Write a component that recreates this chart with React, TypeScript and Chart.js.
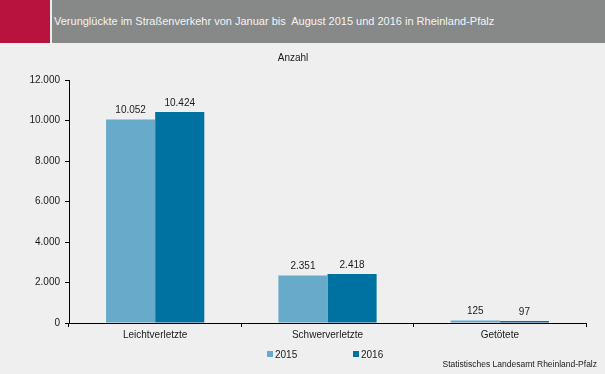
import React, { useEffect, useRef } from "react";
import { Chart, registerables } from "chart.js";

Chart.register(...registerables);

const categories = ["Leichtverletzte", "Schwerverletzte", "Getötete"];
const values2015 = [10052, 2351, 125];
const values2016 = [10424, 2418, 97];
const seriesLabels = ["2015", "2016"];
const seriesColors = ["#68aac9", "#0072a2"];
const yTicks = [0, 2000, 4000, 6000, 8000, 10000, 12000];
const titleText = "Verunglückte im Straßenverkehr von Januar bis  August 2015 und 2016 in Rheinland-Pfalz";
const unitText = "Anzahl";
const sourceText = "Statistisches Landesamt Rheinland-Pfalz";

const FONT = "'Liberation Sans', Arial, sans-serif";
const BG = "#eeefee";
const TXT = "#1a1a1a";

function fmt(n: number): string {
  const s = Math.round(n).toString();
  return s.replace(/\B(?=(\d{3})+(?!\d))/g, ".");
}

const labelPlugin = {
  id: "valueLabels",
  afterDatasetsDraw(chart: any) {
    const ctx = chart.ctx;
    ctx.save();
    ctx.font = "10px " + FONT;
    ctx.fillStyle = TXT;
    ctx.textAlign = "center";
    ctx.textBaseline = "alphabetic";
    chart.data.datasets.forEach((ds: any, i: number) => {
      const meta = chart.getDatasetMeta(i);
      meta.data.forEach((el: any, j: number) => {
        ctx.fillText(fmt(ds.data[j]), el.x, el.y - 6);
      });
    });
    // legend
    const legendX = [267, 353];
    chart.data.datasets.forEach((ds: any, i: number) => {
      ctx.fillStyle = ds.backgroundColor;
      ctx.fillRect(legendX[i], 351, 6, 6);
      ctx.fillStyle = TXT;
      ctx.font = "10px " + FONT;
      ctx.textAlign = "left";
      ctx.textBaseline = "middle";
      ctx.fillText(ds.label, legendX[i] + 8, 355);
    });
    ctx.font = "8.5px " + FONT;
    ctx.textAlign = "right";
    ctx.textBaseline = "alphabetic";
    ctx.fillStyle = TXT;
    ctx.fillText(sourceText, 597, 367);
    ctx.restore();
  },
};

export default function App() {
  const ref = useRef<HTMLCanvasElement | null>(null);
  useEffect(() => {
    if (!ref.current) return;
    const chart = new Chart(ref.current, {
      type: "bar",
      data: {
        labels: categories,
        datasets: [
          { label: seriesLabels[0], data: values2015, backgroundColor: seriesColors[0] },
          { label: seriesLabels[1], data: values2016, backgroundColor: seriesColors[1] },
        ],
      },
      plugins: [labelPlugin],
      options: {
        animation: false,
        responsive: false,
        maintainAspectRatio: false,
        layout: { padding: { top: 44, left: 0, right: 19, bottom: 32 } },
        datasets: { bar: { categoryPercentage: 0.57, barPercentage: 1 } },
        plugins: {
          title: {
            display: true,
            text: unitText,
            color: TXT,
            font: { family: FONT, size: 10, weight: "normal" },
            padding: { top: 8, bottom: 16 },
          },
          legend: { display: false },
          tooltip: { enabled: false },
        },
        scales: {
          x: {
            afterFit: (scale: any) => {
              scale.height = 19;
            },
            grid: {
              display: true,
              drawOnChartArea: false,
              drawTicks: true,
              tickLength: 4,
              color: "#000",
              offset: true,
            },
            border: { display: true, color: "#000", width: 1 },
            ticks: { color: TXT, font: { family: FONT, size: 10 }, padding: 2 },
          },
          y: {
            min: 0,
            max: 12000,
            afterBuildTicks: (scale: any) => {
              scale.ticks = yTicks.map((v) => ({ value: v }));
            },
            afterFit: (scale: any) => {
              scale.width = 69;
            },
            grid: {
              display: true,
              drawOnChartArea: false,
              drawTicks: true,
              tickLength: 4,
              color: "#000",
            },
            border: { display: true, color: "#000", width: 1 },
            ticks: {
              color: TXT,
              font: { family: FONT, size: 10 },
              padding: 5,
              callback: (v: any) => fmt(Number(v)),
            },
          },
        },
      },
    });
    return () => chart.destroy();
  }, []);

  return (
    <div style={{ position: "fixed", left: 0, top: 0, width: 605, height: 374, background: BG, overflow: "hidden" }}>
      <canvas ref={ref} width={605} height={374} style={{ position: "absolute", left: 0, top: 0, width: 605, height: 374 }} />
      <div style={{ position: "absolute", left: 0, top: 0, width: 50, height: 43, background: "#b8133e" }} />
      <div
        style={{
          position: "absolute",
          left: 52,
          top: 0,
          width: 553,
          height: 43,
          background: "#878888",
          color: "#f4f4f4",
          fontFamily: FONT,
          fontSize: 11,
          lineHeight: "43px",
          paddingLeft: 2,
          boxSizing: "border-box",
          whiteSpace: "pre",
        }}
      >
        {titleText}
      </div>
    </div>
  );
}
